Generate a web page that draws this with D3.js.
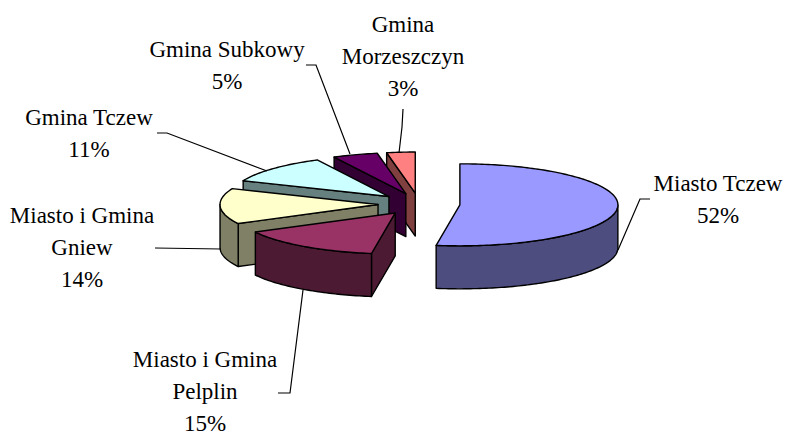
<!DOCTYPE html>
<html>
<head>
<meta charset="utf-8">
<script src="https://cdn.jsdelivr.net/npm/d3@7"></script>
<style>
  html, body { margin: 0; padding: 0; background: #fff; }
  svg { display: block; }
  text { font-family: "Liberation Serif", serif; font-size: 23px; fill: #000; text-anchor: middle; }
</style>
</head>
<body>
<div id="chart"></div>
<script>
const width = 786;
const height = 432;

// dane
const categories = ["Miasto Tczew", "Miasto i Gmina Pelplin", "Miasto i Gmina Gniew", "Gmina Tczew", "Gmina Subkowy", "Gmina Morzeszczyn"];
const values = [52.4, 14.9, 14, 11.2, 4.6, 2.9];
const topColors = ["#9999ff", "#993366", "#ffffcc", "#ccffff", "#660066", "#ff8080"];
const sideColors = ["#4d4d80", "#4d1a33", "#808066", "#668080", "#330033", "#804040"];

// uklad etykiet: x srodka i linia bazowa pierwszego wiersza
const labelLines = [["Miasto Tczew"], ["Miasto i Gmina", "Pelplin"], ["Miasto i Gmina", "Gniew"], ["Gmina Tczew"], ["Gmina Subkowy"], ["Gmina", "Morzeszczyn"]];
const labelX = [718, 205, 82, 89, 227, 403];
const labelY = [191, 367, 223, 125, 57, 32];
const lineHeight = 32;

// linie odniesienia
const leaders = [
  [[650, 199], [640, 199], [618, 250]],
  [[278, 393], [290, 393], [303, 290]],
  [[155, 248], [221, 249]],
  [[157, 133], [167, 133], [267, 171]],
  [[306, 65], [316, 65], [350, 154]],
  [[403, 109], [402, 127], [399, 153]]
];

// rzut kola 3D
const cx = 419, cy = 204;
const rx = 158, ry = 41;
const explodeX = 41, explodeY = 11;
const depth = 43;

const svg = d3.select("#chart").append("svg")
  .attr("width", width)
  .attr("height", height)
  .attr("viewBox", `0 0 ${width} ${height}`);

const arcs = d3.pie().sort(null).value(d => d)(values);

const line = d3.line();

function origin(d) {
  const mid = (d.startAngle + d.endAngle) / 2;
  return [cx + explodeX * Math.sin(mid), cy - explodeY * Math.cos(mid)];
}

// punkt na krawedzi plastra, kat liczony od gory zgodnie z zegarem
function rim(d, a, dy = 0) {
  const o = origin(d);
  return [o[0] + rx * Math.sin(a), o[1] - ry * Math.cos(a) + dy];
}

function arcPoints(d, a0, a1, dy = 0) {
  const n = Math.max(2, Math.ceil(Math.abs(a1 - a0) / 0.02));
  return d3.range(n + 1).map(i => rim(d, a0 + (a1 - a0) * i / n, dy));
}

function cutWall(d, a) {
  const o = origin(d);
  const p = rim(d, a);
  return line([o, p, [p[0], p[1] + depth], [o[0], o[1] + depth]]) + "Z";
}

// plastry rysowane od tylu do przodu
const order = [5, 4, 3, 2, 1, 0];

const slices = svg.append("g").selectAll("g")
  .data(order.map(i => arcs[i]))
  .join("g")
  .attr("stroke", "#000")
  .attr("stroke-width", 1.4)
  .attr("stroke-linejoin", "round");

// tylko ciecia zwrocone do patrzacego, reszta przebijala kreska
slices.filter(d => Math.sin(d.startAngle) < 0)
  .append("path")
  .attr("d", d => cutWall(d, d.startAngle))
  .attr("fill", d => sideColors[d.index]);

slices.filter(d => Math.sin(d.endAngle) > 0.001)
  .append("path")
  .attr("d", d => cutWall(d, d.endAngle))
  .attr("fill", d => sideColors[d.index]);

// sciana zewnetrzna tylko tam gdzie widoczna
slices.filter(d => d.startAngle < 1.5 * Math.PI && d.endAngle > 0.5 * Math.PI)
  .append("path")
  .attr("d", d => {
    const a0 = Math.max(d.startAngle, 0.5 * Math.PI);
    const a1 = Math.min(d.endAngle, 1.5 * Math.PI);
    return line(arcPoints(d, a0, a1).concat(arcPoints(d, a1, a0, depth))) + "Z";
  })
  .attr("fill", d => sideColors[d.index]);

slices.append("path")
  .attr("d", d => line([origin(d)].concat(arcPoints(d, d.startAngle, d.endAngle))) + "Z")
  .attr("fill", d => topColors[d.index]);

svg.append("g").selectAll("path")
  .data(leaders)
  .join("path")
  .attr("d", d => line(d))
  .attr("fill", "none")
  .attr("stroke", "#000")
  .attr("stroke-width", 1.2);

const labels = svg.append("g").selectAll("text")
  .data(categories)
  .join("text")
  .attr("x", (d, i) => labelX[i])
  .attr("y", (d, i) => labelY[i]);

labels.selectAll("tspan")
  .data((d, i) => labelLines[i].concat(Math.round(values[i]) + "%"))
  .join("tspan")
  .attr("x", function() { return this.parentNode.getAttribute("x"); })
  .attr("dy", (d, i) => i === 0 ? 0 : lineHeight)
  .text(d => d);
</script>
</body>
</html>
